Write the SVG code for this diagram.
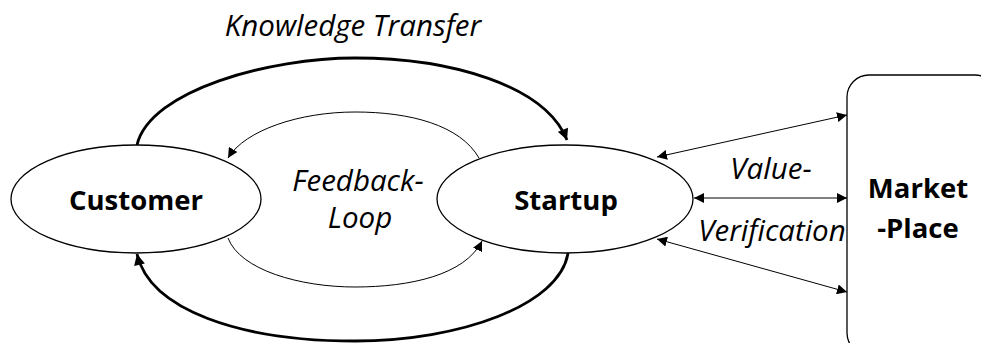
<svg xmlns="http://www.w3.org/2000/svg" width="981" height="343" viewBox="0 0 981 343">
<defs>
<style>
.node{fill:#fff;stroke:#000;stroke-width:1.3}
.lbl{font-family:"Open Sans","Liberation Sans",sans-serif;fill:#000;text-anchor:middle}
.b{font-weight:bold;font-size:27.5px}
.i{font-style:italic;font-size:29.5px}
.thick{fill:none;stroke:#000;stroke-width:2.8}
.thin{fill:none;stroke:#000;stroke-width:1}
</style>
<marker id="ah" viewBox="0 0 10 10" refX="10" refY="5" markerWidth="10" markerHeight="10" markerUnits="userSpaceOnUse" orient="auto-start-reverse">
<path d="M0,0 L10,5 L0,10 z" fill="#000"/>
</marker>
<marker id="ahb" viewBox="0 0 10 10" refX="10" refY="5" markerWidth="12" markerHeight="11" markerUnits="userSpaceOnUse" orient="auto">
<path d="M0,0 L10,5 L0,10 z" fill="#000"/>
</marker>
</defs>
<rect width="981" height="343" fill="#fff"/>
<g id="connectors">
<path class="thick" d="M137,145 C150,90 270,58 355,58 C450,58 545,85 567,140" marker-end="url(#ahb)"/>
<path class="thick" d="M568,253 C560,305 460,341 355,341 C240,341 150,310 137,254" marker-end="url(#ahb)"/>
<path class="thin" d="M479,158 C460,125 410,112 355,112 C300,112 245,130 228,158" marker-end="url(#ah)"/>
<path class="thin" d="M228,238 C240,270 300,287 355,287 C410,287 465,275 482,241" marker-end="url(#ah)"/>
<line class="thin" x1="657" y1="157" x2="847" y2="115" marker-start="url(#ah)" marker-end="url(#ah)"/>
<line class="thin" x1="694" y1="198" x2="847" y2="198" marker-start="url(#ah)" marker-end="url(#ah)"/>
<line class="thin" x1="657" y1="239" x2="847" y2="292" marker-start="url(#ah)" marker-end="url(#ah)"/>
</g>
<g id="customer">
<ellipse class="node" cx="136" cy="199" rx="125" ry="54"/>
<text class="lbl b" x="136" y="210">Customer</text>
</g>
<g id="startup">
<ellipse class="node" cx="565" cy="199" rx="128" ry="54"/>
<text class="lbl b" x="566" y="210">Startup</text>
</g>
<g id="marketplace">
<rect class="node" x="847" y="75" width="150" height="280" rx="22"/>
<text class="lbl b" x="918" y="198">Market</text>
<text class="lbl b" x="918" y="238">-Place</text>
</g>
<g id="labels">
<text class="lbl i" x="353" y="36">Knowledge Transfer</text>
<text class="lbl i" x="358" y="191">Feedback-</text>
<text class="lbl i" x="360" y="228">Loop</text>
<text class="lbl i" x="771" y="179">Value-</text>
<text class="lbl i" x="772" y="241">Verification</text>
</g>
</svg>
